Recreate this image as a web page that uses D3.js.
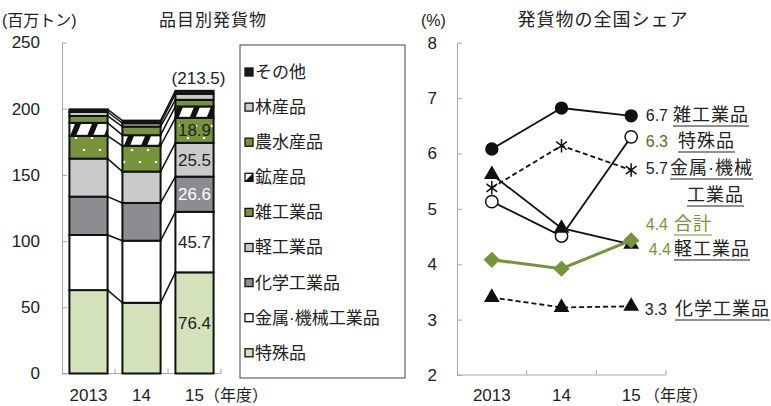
<!DOCTYPE html>
<html>
<head>
<meta charset="utf-8">
<script src="https://cdn.jsdelivr.net/npm/d3@7"></script>
<style>
    body { margin: 0; background: #fff; }
    svg text { font-family: "Liberation Sans", "Noto Sans CJK JP", sans-serif; fill: #222; }
</style>
</head>
<body>
<svg id="chart" width="771" height="406"></svg>
<script>
// ======== DATA ==========
const years = ["2013", "14", "15"];
const goods = ["特殊品", "金属·機械工業品", "化学工業品", "軽工業品", "雑工業品", "鉱産品", "農水産品", "林産品", "その他"];

// shipments, million tons (bottom -> top)
const tokushuTons = [63.0, 53.4, 76.4];
const kinzokuTons = [41.6, 46.9, 45.7];
const kagakuTons = [29.0, 28.5, 26.6];
const keiTons = [28.7, 23.7, 25.5];
const zatsuTons = [17.2, 19.5, 18.9];
const kozanTons = [9.8, 8.0, 8.6];
const nosuiTons = [5.2, 6.5, 5.0];
const rinTons = [3.0, 2.5, 4.5];
const sonotaTons = [2.0, 2.0, 2.3];
const totalLabel = "(213.5)";
const yTicksLeft = [0, 50, 100, 150, 200, 250];

// national share, %
const zatsuShare = [6.08, 6.82, 6.68];
const tokushuShare = [5.13, 4.51, 6.30];
const kinzokuShare = [5.38, 6.14, 5.70];
const keiShare = [5.62, 4.65, 4.36];
const kagakuShare = [3.40, 3.22, 3.24];
const totalShare = [4.08, 3.92, 4.43];
const yTicksRight = [2, 3, 4, 5, 6, 7, 8];

const tonsByGood = [tokushuTons, kinzokuTons, kagakuTons, keiTons, zatsuTons, kozanTons, nosuiTons, rinTons, sonotaTons];
const green = "#77933c";

let svg = d3.select("#chart");
let defs = svg.append("defs");

// motifs
let dots = defs.append("pattern").attr("id", "dots")
    .attr("patternUnits", "userSpaceOnUse").attr("width", 16).attr("height", 24);
dots.append("rect").attr("width", 16).attr("height", 24).attr("fill", green);
dots.append("circle").attr("cx", 4).attr("cy", 6).attr("r", 1.3).attr("fill", "#fff");
dots.append("circle").attr("cx", 12).attr("cy", 18).attr("r", 1.3).attr("fill", "#fff");

let hatch = defs.append("pattern").attr("id", "hatch")
    .attr("patternUnits", "userSpaceOnUse").attr("width", 17).attr("height", 17);
hatch.append("rect").attr("width", 17).attr("height", 17).attr("fill", "#fff");
hatch.append("path").attr("d", "M2,17 L9,0 L15,0 L8,17 Z").attr("fill", "#111");

const fills = {
    "特殊品": "#d4e2bb",
    "金属·機械工業品": "#fff",
    "化学工業品": "#8c8d90",
    "軽工業品": "#c9cacc",
    "雑工業品": "url(#dots)",
    "鉱産品": "url(#hatch)",
    "農水産品": green,
    "林産品": "#c9cacc",
    "その他": "#1a1a1a"
};

// ======== STACKED BARS ==========
let rows = years.map((y, i) => {
    let r = { year: y };
    goods.forEach((g, k) => r[g] = tonsByGood[k][i]);
    return r;
});
let stacked = d3.stack().keys(goods)(rows);

let yLeft = d3.scaleLinear().domain([0, 250]).range([373.5, 42.5]);
let xLeft = d3.scaleBand().domain(years).range([62, 221]).paddingInner(0.28).paddingOuter(0.14);
let bw = xLeft.bandwidth();

svg.append("g")
    .attr("transform", "translate(62,0)")
    .call(d3.axisLeft(yLeft).tickValues(yTicksLeft).tickSize(-5).tickSizeOuter(0).tickPadding(22))
    .call(g => g.selectAll("path, line").attr("stroke", "#aaa"))
    .call(g => g.selectAll("text").style("font-size", "17px").attr("fill", "#222"));

svg.append("line").attr("x1", 62).attr("x2", 221).attr("y1", yLeft(0)).attr("y2", yLeft(0)).attr("stroke", "#aaa");
svg.append("g").selectAll("line")
    .data(years)
    .enter().append("line")
    .attr("x1", d => xLeft(d) + bw + xLeft.step() * xLeft.paddingInner() / 2)
    .attr("x2", d => xLeft(d) + bw + xLeft.step() * xLeft.paddingInner() / 2)
    .attr("y1", yLeft(0)).attr("y2", yLeft(0) - 5)
    .attr("stroke", "#aaa");

// series lines between bars
stacked.forEach(layer => {
    for (let i = 0; i < years.length - 1; i++) {
        svg.append("line")
            .attr("x1", xLeft(years[i]) + bw).attr("y1", yLeft(layer[i][1]))
            .attr("x2", xLeft(years[i + 1])).attr("y2", yLeft(layer[i + 1][1]))
            .attr("stroke", "#111").attr("stroke-width", 1.5);
    }
});

svg.append("g").selectAll("g")
    .data(stacked)
    .enter().append("g")
    .attr("fill", d => fills[d.key])
    .selectAll("rect")
    .data(d => d)
    .enter().append("rect")
    .attr("x", d => xLeft(d.data.year))
    .attr("y", d => yLeft(d[1]))
    .attr("width", bw)
    .attr("height", d => yLeft(d[0]) - yLeft(d[1]))
    .attr("stroke", "#111")
    .attr("stroke-width", 2);

// values in the 2015 bar
let last = years.length - 1;
svg.append("g").selectAll("text")
    .data(stacked.slice(0, 5))
    .enter().append("text")
    .attr("x", xLeft(years[last]) + bw / 2)
    .attr("y", d => yLeft((d[last][0] + d[last][1]) / 2))
    .attr("dy", "0.35em")
    .attr("text-anchor", "middle")
    .style("font-size", "17px")
    .style("fill", d => d.key === "化学工業品" ? "#fff" : "#222")
    .text(d => d3.format(".1f")(d[last].data[d.key]));

svg.append("text")
    .attr("x", xLeft(years[last]) + bw / 2 + 4)
    .attr("y", 78).attr("dy", "0.35em")
    .attr("text-anchor", "middle")
    .style("font-size", "17px")
    .text(totalLabel);

svg.append("g").selectAll("text")
    .data(years)
    .enter().append("text")
    .attr("x", d => xLeft(d) + bw / 2)
    .attr("y", 395).attr("dy", "0.35em")
    .attr("text-anchor", "middle")
    .style("font-size", "17px")
    .text(d => d);
svg.append("text").attr("x", 204).attr("y", 395).attr("dy", "0.35em")
    .style("font-size", "16px").text("（年度）");

svg.append("text").attr("x", 2).attr("y", 20).attr("dy", "0.35em")
    .style("font-size", "16px").text("(百万トン)");
svg.append("text").attr("x", 213).attr("y", 20).attr("dy", "0.35em")
    .attr("text-anchor", "middle")
    .style("font-size", "17px").style("letter-spacing", "1px").text("品目別発貨物");

// legend
svg.append("rect").attr("x", 240).attr("y", 45).attr("width", 165).attr("height", 333)
    .attr("fill", "none").attr("stroke", "#444").attr("stroke-width", 1);
let legendItems = goods.slice().reverse();
let legend = svg.append("g").selectAll("g")
    .data(legendItems)
    .enter().append("g")
    .attr("transform", (d, i) => `translate(245,${72 + i * 35.1})`);
legend.append("rect")
    .attr("x", 0).attr("y", -4).attr("width", 8).attr("height", 8)
    .attr("fill", d => d === "雑工業品" ? green : (d === "鉱産品" ? "#fff" : fills[d]))
    .attr("stroke", "#111").attr("stroke-width", 1.3);
legend.filter(d => d === "鉱産品").append("path")
    .attr("d", "M8,-4 L8,4 L0,4 Z").attr("fill", "#111");
legend.append("text")
    .attr("x", 10).attr("dy", "0.35em")
    .style("font-size", "17px")
    .text(d => d);

// ======== SHARE LINES ==========
let yRight = d3.scaleLinear().domain([2, 8]).range([375, 42.7]);
let xRight = d3.scaleBand().domain(years).range([457, 666]);
let cx = d => xRight(d) + xRight.bandwidth() / 2;

svg.append("g")
    .attr("transform", "translate(457,0)")
    .call(d3.axisLeft(yRight).tickValues(yTicksRight).tickFormat(d3.format("d"))
        .tickSize(-5).tickSizeOuter(0).tickPadding(20))
    .call(g => g.selectAll("path, line").attr("stroke", "#aaa"))
    .call(g => g.selectAll("text").style("font-size", "17px").attr("fill", "#222"));

svg.append("line").attr("x1", 457).attr("x2", 666).attr("y1", yRight(2)).attr("y2", yRight(2)).attr("stroke", "#aaa");
svg.append("g").selectAll("line")
    .data(years)
    .enter().append("line")
    .attr("x1", d => xRight(d) + xRight.bandwidth()).attr("x2", d => xRight(d) + xRight.bandwidth())
    .attr("y1", yRight(2)).attr("y2", yRight(2) - 5)
    .attr("stroke", "#aaa");

svg.append("g").selectAll("text")
    .data(years)
    .enter().append("text")
    .attr("x", d => cx(d))
    .attr("y", 395).attr("dy", "0.35em")
    .attr("text-anchor", "middle")
    .style("font-size", "17px")
    .text(d => d);
svg.append("text").attr("x", 644).attr("y", 395).attr("dy", "0.35em")
    .style("font-size", "16px").text("（年度）");

svg.append("text").attr("x", 421).attr("y", 20).attr("dy", "0.35em")
    .style("font-size", "16px").text("(%)");
svg.append("text").attr("x", 603).attr("y", 20).attr("dy", "0.35em")
    .attr("text-anchor", "middle")
    .style("font-size", "18px").style("letter-spacing", "1px").text("発貨物の全国シェア");

const asterisk = {
    draw(ctx, size) {
        let r = Math.sqrt(size) / 2;
        let u = r * 0.8, t = r * 0.6;
        ctx.moveTo(0, -r); ctx.lineTo(0, r);
        ctx.moveTo(-u, -t); ctx.lineTo(u, t);
        ctx.moveTo(-u, t); ctx.lineTo(u, -t);
    }
};

let series = [
    { values: zatsuShare, dash: null, marker: d3.symbolCircle, size: 110, fill: "#111", color: "#111", width: 1.8 },
    { values: tokushuShare, dash: null, marker: d3.symbolCircle, size: 120, fill: "#fff", color: "#111", width: 1.8 },
    { values: kinzokuShare, dash: "5,3", marker: asterisk, size: 180, fill: "none", color: "#111", width: 1.8 },
    { values: keiShare, dash: null, marker: d3.symbolTriangle, size: 75, fill: "#111", color: "#111", width: 1.8 },
    { values: kagakuShare, dash: "5,3", marker: d3.symbolTriangle, size: 75, fill: "#111", color: "#111", width: 1.8 },
    { values: totalShare, dash: null, marker: d3.symbolSquare, size: 100, fill: green, color: green, width: 3, rotate: 45 }
];

let line = d3.line()
    .x((d, i) => cx(years[i]))
    .y(d => yRight(d));

series.forEach(s => {
    svg.append("path")
        .datum(s.values)
        .attr("fill", "none")
        .attr("stroke", s.color)
        .attr("stroke-width", s.width)
        .attr("stroke-dasharray", s.dash)
        .attr("d", line);
});
series.forEach(s => {
    svg.append("g").selectAll("path")
        .data(s.values)
        .enter().append("path")
        .attr("transform", (d, i) => `translate(${cx(years[i])},${yRight(d)}) rotate(${s.rotate || 0})`)
        .attr("d", d3.symbol().type(s.marker).size(s.size))
        .attr("fill", s.fill)
        .attr("stroke", s.marker === asterisk ? "#111" : s.color)
        .attr("stroke-width", 1.5);
});

// end labels (number right-aligned, name underlined)
let labels = [
    { num: "6.7", numEnd: 668, numColor: "#222", name: "雑工業品", nameX: 673, y: 115, nameColor: "#222" },
    { num: "6.3", numEnd: 668, numColor: "#5b6e2c", name: "特殊品", nameX: 678, y: 141, nameColor: "#222" },
    { num: "5.7", numEnd: 668, numColor: "#222", name: "金属·機械", nameX: 670, y: 168, nameColor: "#222" },
    { num: "", numEnd: 0, numColor: "#222", name: "工業品", nameX: 687, y: 195, nameColor: "#222" },
    { num: "4.4", numEnd: 668, numColor: green, name: "合計", nameX: 674, y: 224, nameColor: green },
    { num: "4.4", numEnd: 671, numColor: green, name: "軽工業品", nameX: 674, y: 249, nameColor: "#222" },
    { num: "3.3", numEnd: 667, numColor: "#222", name: "化学工業品", nameX: 675, y: 309, nameColor: "#222" }
];
labels.forEach(l => {
    svg.append("text").attr("x", l.numEnd).attr("y", l.y).attr("dy", "0.35em")
        .attr("text-anchor", "end")
        .style("font-size", "16px").style("fill", l.numColor).text(l.num);
    let t = svg.append("text").attr("x", l.nameX).attr("y", l.y).attr("dy", "0.35em")
        .style("font-size", "18px").style("letter-spacing", "1px").style("fill", l.nameColor).text(l.name);
    let w = t.node().getComputedTextLength();
    svg.append("line")
        .attr("x1", l.nameX).attr("x2", l.nameX + w)
        .attr("y1", l.y + 11).attr("y2", l.y + 11)
        .attr("stroke", l.nameColor).attr("stroke-width", 1.2);
});
</script>
</body>
</html>
